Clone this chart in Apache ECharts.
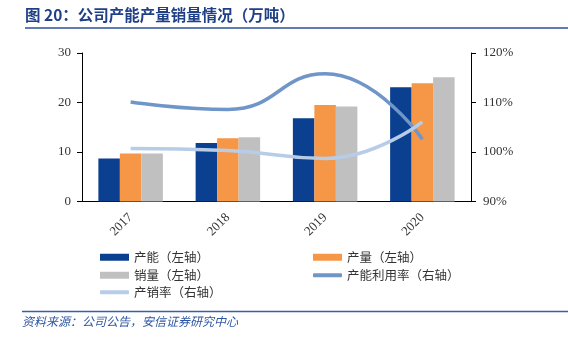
<!DOCTYPE html>
<html>
<head>
<meta charset="utf-8">
<script src="https://cdn.jsdelivr.net/npm/echarts@6/dist/echarts.min.js"></script>
<style>
  html, body { margin: 0; padding: 0; background: #fff; }
  #chart { width: 568px; height: 340px; }
</style>
</head>
<body>
<div id="chart"></div>
<script>
// Annual figures, 10k tonnes (left axis) and percent (right axis)
const years = ['2017', '2018', '2019', '2020'];
const capacity = [8.7, 11.8, 16.8, 23.1];
const output = [9.7, 12.8, 19.5, 23.9];
const sales = [9.7, 13.0, 19.2, 25.1];
const utilization = [110.1, 108.6, 115.8, 102.6];
const sellThrough = [100.7, 100.3, 98.7, 106.1];
const leftTicks = { min: 0, max: 30, interval: 10 };
const rightTicks = { min: 90, max: 120, interval: 10 };

const names = ['产能（左轴）', '产量（左轴）', '销量（左轴）', '产能利用率（右轴）', '产销率（右轴）'];
const colors = ['#0b3f8f', '#f69647', '#c0c0c0', '#6f95c9', '#b7cde7'];

const chart = echarts.init(document.getElementById('chart'), null, { renderer: 'canvas' });

const axisText = { fontFamily: 'Liberation Serif', fontSize: 13, color: '#333' };
const legendText = { fontFamily: 'Noto Sans CJK SC', fontSize: 12.5, color: '#333' };

function legendAt(name, left, top, isLine) {
  return {
    data: [name],
    left: left, top: top,
    orient: 'horizontal',
    icon: isLine ? 'roundRect' : 'rect',
    itemWidth: 29,
    itemHeight: isLine ? 4 : 7,
    itemGap: 4,
    padding: 0,
    textStyle: legendText,
    selectedMode: false
  };
}

const option = {
  animation: false,
  grid: { left: 82, right: 97, top: 53, bottom: 138.5, containLabel: false },
  legend: [
    legendAt(names[0], 100, 251, false),
    legendAt(names[1], 313, 251, false),
    legendAt(names[2], 100, 269, false),
    legendAt(names[3], 313, 269, true),
    legendAt(names[4], 100, 286, true)
  ],
  xAxis: {
    type: 'category',
    data: years,
    axisLine: { lineStyle: { color: '#000', width: 1 } },
    axisTick: { length: 5, lineStyle: { color: '#000' } },
    axisLabel: Object.assign({ rotate: 45, margin: 14 }, axisText)
  },
  yAxis: [
    {
      type: 'value',
      min: leftTicks.min, max: leftTicks.max, interval: leftTicks.interval,
      axisLine: { show: true, lineStyle: { color: '#000', width: 1 } },
      axisTick: { show: true, length: 5, lineStyle: { color: '#000' } },
      splitLine: { show: false },
      axisLabel: Object.assign({ margin: 11 }, axisText)
    },
    {
      type: 'value',
      position: 'right',
      min: rightTicks.min, max: rightTicks.max, interval: rightTicks.interval,
      axisLine: { show: true, lineStyle: { color: '#000', width: 1 } },
      axisTick: { show: true, length: 5, lineStyle: { color: '#000' } },
      splitLine: { show: false },
      axisLabel: Object.assign({ margin: 12, formatter: '{value}%' }, axisText)
    }
  ],
  series: [
    { name: names[0], type: 'bar', data: capacity, itemStyle: { color: colors[0] }, barWidth: 21.5, barGap: '0%' },
    { name: names[1], type: 'bar', data: output, itemStyle: { color: colors[1] }, barWidth: 21.5, barGap: '0%' },
    { name: names[2], type: 'bar', data: sales, itemStyle: { color: colors[2] }, barWidth: 21.5, barGap: '0%' },
    { name: names[3], type: 'line', yAxisIndex: 1, data: utilization, smooth: 0.5, showSymbol: false,
      lineStyle: { color: colors[3], width: 3.5 }, itemStyle: { color: colors[3] } },
    { name: names[4], type: 'line', yAxisIndex: 1, data: sellThrough, smooth: 0.5, showSymbol: false,
      lineStyle: { color: colors[4], width: 3.5 }, itemStyle: { color: colors[4] } }
  ],
  graphic: [
    { type: 'text', left: 25, top: 7,
      style: { text: '图 20：公司产能产量销量情况（万吨）', fill: '#1f3f87',
               font: 'bold 15.5px "Noto Sans CJK SC"' } },
    { type: 'line', shape: { x1: 25, y1: 28, x2: 568, y2: 28 },
      style: { stroke: '#2e4f98', lineWidth: 1.5 } },
    { type: 'line', shape: { x1: 22, y1: 311.5, x2: 568, y2: 311.5 },
      style: { stroke: '#3a5ea8', lineWidth: 1.5 } },
    { type: 'text', left: 22, top: 315,
      style: { text: '资料来源：公司公告，安信证券研究中心', fill: '#2f56a3',
               font: 'italic 12px "Noto Sans CJK SC"' } }
  ]
};

chart.setOption(option);
</script>
</body>
</html>
